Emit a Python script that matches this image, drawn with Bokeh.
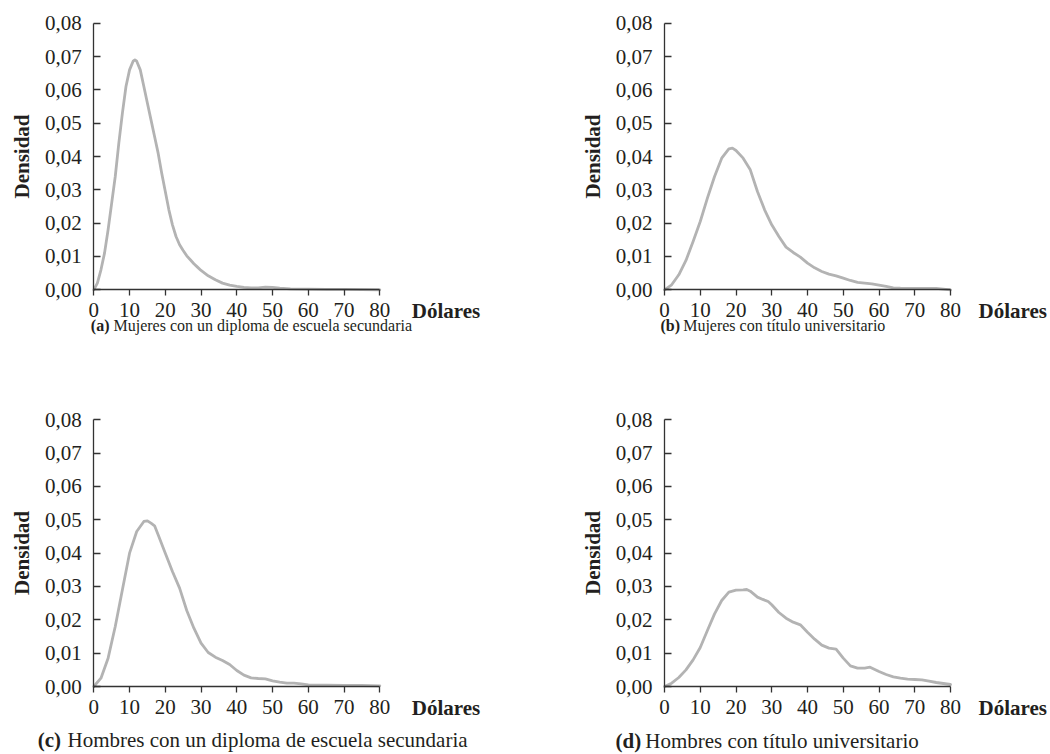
from bokeh.plotting import figure
from bokeh.models import Range1d, FixedTicker, CustomJSTickFormatter, Label
from bokeh.layouts import column, row
from bokeh.embed import file_html
from bokeh.resources import INLINE

# ---------------- data ----------------
x_ticks = [0, 10, 20, 30, 40, 50, 60, 70, 80]
y_ticks = [0.0, 0.01, 0.02, 0.03, 0.04, 0.05, 0.06, 0.07, 0.08]

# (a) Mujeres, diploma de escuela secundaria
a_x = [0, 1, 2, 3, 4, 5, 6, 7, 8, 9, 10, 11, 11.5, 12, 13, 14, 15, 16, 17, 18, 19, 20,
       21, 22, 23, 24, 25, 26, 27, 28, 29, 30, 32, 34, 36, 38, 40, 42, 44, 46, 48,
       50, 52, 55, 60, 65, 70, 75, 80]
a_y = [0.0, 0.002, 0.006, 0.011, 0.018, 0.026, 0.034, 0.044, 0.053, 0.061, 0.066,
       0.0686, 0.069, 0.0686, 0.066, 0.061, 0.056, 0.051, 0.046, 0.041, 0.035, 0.0295,
       0.024, 0.0195, 0.016, 0.0135, 0.0118, 0.0102, 0.009, 0.0078, 0.0068, 0.0058,
       0.0042, 0.003, 0.002, 0.0014, 0.001, 0.0007, 0.0006, 0.0006, 0.0008,
       0.0007, 0.0005, 0.0003, 0.0002, 0.0001, 0.0001, 0.00005, 0.0]

# (b) Mujeres, título universitario
b_x = [0, 2, 4, 6, 8, 10, 12, 14, 16, 18, 19, 20, 22, 24, 26, 28, 30, 32, 34, 36,
       38, 40, 42, 44, 46, 48, 50, 52, 54, 56, 58, 60, 62, 64, 66, 70, 74, 76, 78, 80]
b_y = [0.0, 0.0015, 0.0045, 0.0088, 0.0145, 0.0205, 0.0275, 0.034, 0.0395, 0.0423,
       0.0425, 0.0418, 0.0395, 0.036, 0.0295, 0.024, 0.0195, 0.016, 0.0128, 0.0112,
       0.0098, 0.008, 0.0066, 0.0055, 0.0047, 0.0042, 0.0035, 0.0028, 0.0022, 0.002,
       0.0018, 0.0014, 0.001, 0.0006, 0.0005, 0.0004, 0.0004, 0.0004, 0.0002, 0.0]

# (c) Hombres, diploma de escuela secundaria
c_x = [0, 2, 4, 6, 8, 10, 12, 14, 15, 16, 17, 18, 20, 22, 24, 26, 28, 30, 32, 34,
       36, 38, 40, 42, 44, 46, 48, 50, 52, 54, 56, 58, 60, 65, 70, 75, 80]
c_y = [0.0, 0.0025, 0.0085, 0.018, 0.029, 0.04, 0.0465, 0.0495, 0.0497, 0.049,
       0.0482, 0.0455, 0.04, 0.0345, 0.0295, 0.0228, 0.0175, 0.013, 0.0102, 0.0088,
       0.0078, 0.0066, 0.0048, 0.0034, 0.0026, 0.0024, 0.0023, 0.0017, 0.0013,
       0.001, 0.001, 0.0008, 0.0005, 0.0004, 0.0003, 0.0003, 0.0002]

# (d) Hombres, título universitario
d_x = [0, 2, 4, 6, 8, 10, 12, 14, 16, 18, 20, 22, 23, 24, 26, 28, 29, 30, 32, 34,
       36, 38, 40, 42, 44, 46, 48, 50, 52, 54, 56, 57.5, 60, 62, 64, 66, 68, 70,
       72, 74, 76, 78, 80]
d_y = [0.0, 0.001, 0.0027, 0.005, 0.008, 0.0117, 0.0168, 0.0218, 0.0258, 0.0283,
       0.0289, 0.029, 0.0291, 0.0286, 0.0268, 0.0259, 0.0255, 0.0245, 0.0222,
       0.0205, 0.0193, 0.0185, 0.0163, 0.0142, 0.0124, 0.0115, 0.0112, 0.0085,
       0.0062, 0.0055, 0.0055, 0.0058, 0.0045, 0.0036, 0.0029, 0.0025, 0.0022,
       0.0021, 0.002, 0.0016, 0.0012, 0.0009, 0.0006]

letters = ["(a)", "(b)", "(c)", "(d)"]
captions = ["Mujeres con un diploma de escuela secundaria",
            "Mujeres con título universitario",
            "Hombres con un diploma de escuela secundaria",
            "Hombres con título universitario"]
x_label = "Dólares"
y_label = "Densidad"

# ---------------- styling ----------------
FONT = "Liberation Serif"
INK = "#231f20"
AXIS = "#333333"
CURVE = "#b3b3b3"
TICK_FS = 21
X_MAX = 80
Y_MAX = 0.08


def panel(xs, ys, letter, caption, width, height, x0px, x80px, y0px, y8px,
          cap_fs, cap_dx, cap_dy, dol_dx):
    # frame covers the whole canvas; map data (0..80, 0..0.08) to pixel targets
    sx = (x80px - x0px) / X_MAX
    sy = (y0px - y8px) / Y_MAX
    xr = Range1d(-x0px / sx, (width - x0px) / sx)
    yr = Range1d(-(height - y0px) / sy, y0px / sy)
    p = figure(width=width, height=height, output_backend="svg",
               toolbar_location=None, x_range=xr, y_range=yr,
               min_border_left=0, min_border_right=0,
               min_border_top=0, min_border_bottom=0)
    p.outline_line_color = None
    p.grid.visible = False
    p.background_fill_color = "white"
    p.border_fill_color = "white"

    p.line(xs, ys, line_color=CURVE, line_width=2.8, line_join="round",
           line_cap="round")

    for ax in (p.xaxis, p.yaxis):
        ax.fixed_location = 0
        ax.axis_line_color = AXIS
        ax.axis_line_width = 1.3
        ax.major_tick_line_color = AXIS
        ax.major_tick_line_width = 1.3
        ax.minor_tick_line_color = None
        ax.major_label_text_font = FONT
        ax.major_label_text_font_size = f"{TICK_FS}px"
        ax.major_label_text_color = INK

    p.xaxis.bounds = (0, X_MAX)
    p.yaxis.bounds = (0, Y_MAX)
    p.xaxis.ticker = FixedTicker(ticks=x_ticks)
    p.yaxis.ticker = FixedTicker(ticks=y_ticks)
    p.xaxis.formatter = CustomJSTickFormatter(code="return tick.toFixed(0);")
    p.yaxis.formatter = CustomJSTickFormatter(
        code="return tick.toFixed(2).replace('.', ',');")
    p.xaxis.major_tick_in = 0
    p.xaxis.major_tick_out = 6
    p.xaxis.major_label_standoff = 7
    p.yaxis.major_tick_in = 7
    p.yaxis.major_tick_out = 0
    p.yaxis.major_label_standoff = 12

    p.yaxis.axis_label = y_label
    p.yaxis.axis_label_text_font = FONT
    p.yaxis.axis_label_text_font_style = "bold"
    p.yaxis.axis_label_text_font_size = f"{TICK_FS}px"
    p.yaxis.axis_label_text_color = INK
    p.yaxis.axis_label_standoff = 8

    p.add_layout(Label(x=X_MAX, y=0, x_offset=dol_dx, y_offset=-9, text=x_label,
                       text_font=FONT, text_font_style="bold",
                       text_font_size=f"{TICK_FS}px", text_color=INK,
                       text_baseline="top", text_align="left"))

    lw = 1.166 * cap_fs + 0.25 * cap_fs
    p.add_layout(Label(x=0, y=0, x_offset=cap_dx, y_offset=cap_dy, text=letter,
                       text_font=FONT, text_font_style="bold",
                       text_font_size=f"{cap_fs}px", text_color=INK,
                       text_baseline="middle", text_align="left"))
    p.add_layout(Label(x=0, y=0, x_offset=cap_dx + lw, y_offset=cap_dy,
                       text=caption, text_font=FONT,
                       text_font_size=f"{cap_fs}px", text_color=INK,
                       text_baseline="middle", text_align="left"))
    return p


pa = panel(a_x, a_y, letters[0], captions[0], 525, 377, 93.3, 379.3, 289.3, 22.7,
           16, -3, -36, 32)
pb = panel(b_x, b_y, letters[1], captions[1], 525, 377, 139, 425, 289.3, 22.7,
           16, -4, -36, 28)
pc = panel(c_x, c_y, letters[2], captions[2], 525, 377, 93.3, 379.3, 309, 42.3,
           21, -56, -53, 32)
pd = panel(d_x, d_y, letters[3], captions[3], 525, 377, 139, 425, 309, 42.3,
           21, -49, -54, 28)

layout = column(row(pa, pb), row(pc, pd))
open("out.html", "w").write(file_html(layout, INLINE))
